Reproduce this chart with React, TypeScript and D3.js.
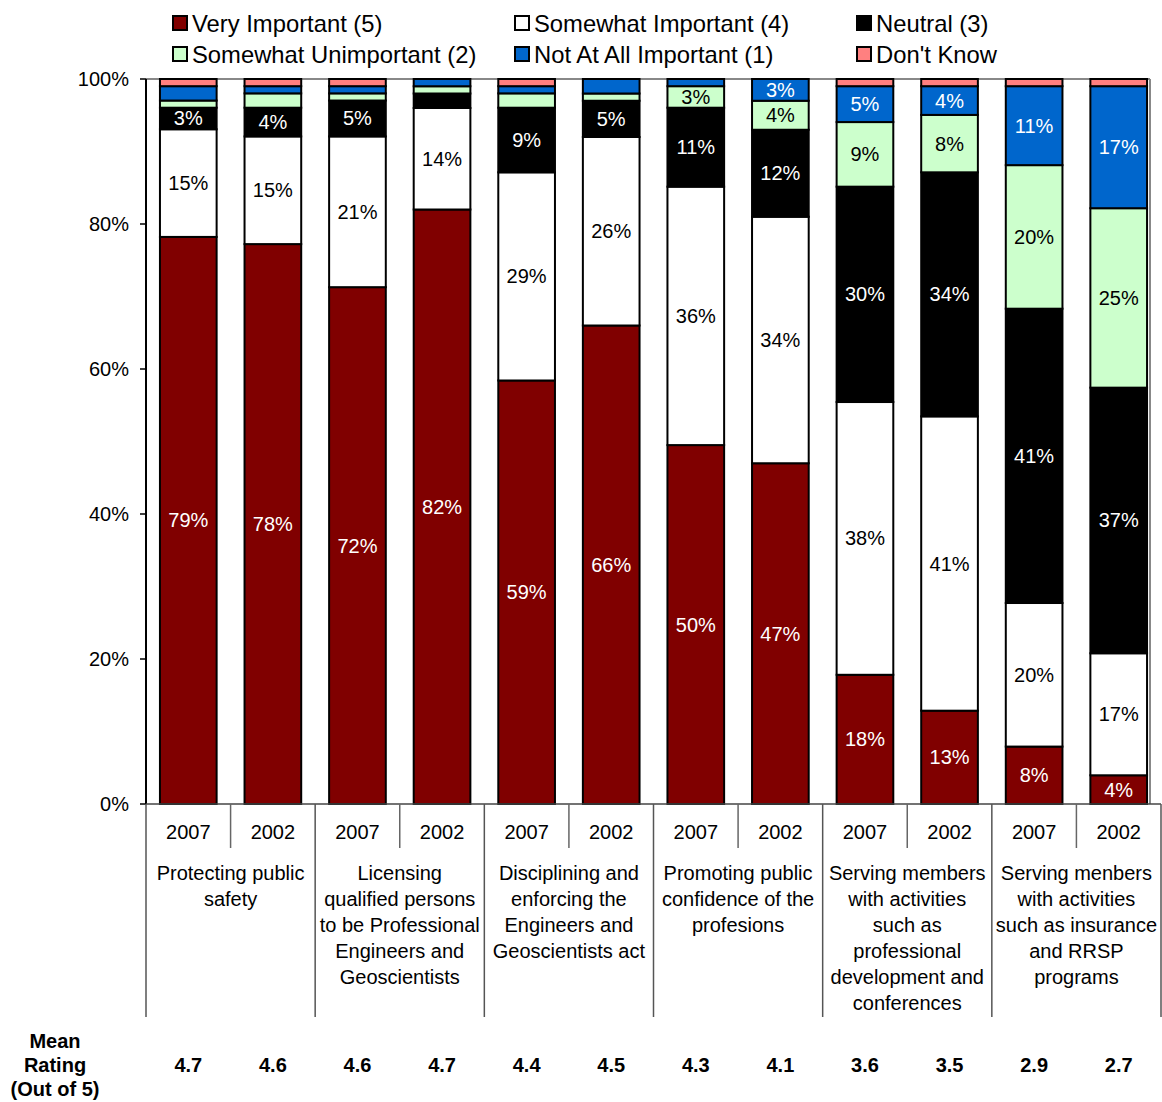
import React from "react";
import * as d3 from "d3";

const groups: string[][] = [
  ["Protecting public", "safety"],
  ["Licensing", "qualified persons", "to be Professional", "Engineers and", "Geoscientists"],
  ["Disciplining and", "enforcing the", "Engineers and", "Geoscientists act"],
  ["Promoting public", "confidence of the", "profesions"],
  ["Serving members", "with activities", "such as", "professional", "development and", "conferences"],
  ["Serving menbers", "with activities", "such as insurance", "and RRSP", "programs"],
];
const years = ["2007", "2002"];

const seriesNames = [
  "Very Important (5)",
  "Somewhat Important (4)",
  "Neutral (3)",
  "Somewhat Unimportant (2)",
  "Not At All Important (1)",
  "Don't Know",
];
const seriesColors = ["#800000", "#FFFFFF", "#000000", "#CCFFCC", "#0066CC", "#FF8080"];
const labelColors = ["#FFFFFF", "#000000", "#FFFFFF", "#000000", "#FFFFFF", "#000000"];

const veryImportant = [79, 78, 72, 82, 59, 66, 50, 47, 18, 13, 8, 4];
const somewhatImportant = [15, 15, 21, 14, 29, 26, 36, 34, 38, 41, 20, 17];
const neutral = [3, 4, 5, 2, 9, 5, 11, 12, 30, 34, 41, 37];
const somewhatUnimportant = [1, 2, 1, 1, 2, 1, 3, 4, 9, 8, 20, 25];
const notAtAllImportant = [2, 1, 1, 1, 1, 2, 1, 3, 5, 4, 11, 17];
const dontKnow = [1, 1, 1, 0, 1, 0, 0, 0, 1, 1, 1, 1];

const meanRatings = [4.7, 4.6, 4.6, 4.7, 4.4, 4.5, 4.3, 4.1, 3.6, 3.5, 2.9, 2.7];

const FONT = "'Liberation Sans', Arial, sans-serif";

export default function App() {
  const W = 1162;
  const H = 1102;
  const left = 146;
  const right = 1161;
  const top = 79;
  const bottom = 804;

  const seriesValues = [veryImportant, somewhatImportant, neutral, somewhatUnimportant, notAtAllImportant, dontKnow];
  const keys = seriesNames;
  const rows = veryImportant.map((_, i) => {
    const r: Record<string, number> = {};
    keys.forEach((k, s) => (r[k] = seriesValues[s][i]));
    return r;
  });
  const stacked = d3.stack<Record<string, number>>().keys(keys).offset(d3.stackOffsetExpand)(rows);

  const idx = d3.range(rows.length);
  const x = d3.scaleBand<number>().domain(idx).range([left, right]).paddingInner(0.33).paddingOuter(0.165);
  const y = d3.scaleLinear().domain([0, 1]).range([bottom, top]);
  const step = x.step();
  const bw = x.bandwidth();
  const yTicks = y.ticks(5);
  const fmt = d3.format(".0%");

  return (
    <svg width={W} height={H} style={{ position: "absolute", left: 0, top: 0, background: "#fff" }} fontFamily={FONT}>
      {/* plot border (gray) */}
      <line x1={left} x2={1150} y1={top} y2={top} stroke="#888" strokeWidth={2} />
      <line x1={1150} x2={1150} y1={top} y2={bottom} stroke="#888" strokeWidth={2} />

      {/* bars */}
      {stacked.map((layer, s) =>
        layer.map((d, i) => {
          const v = seriesValues[s][i];
          if (v <= 0) return null;
          const y0 = y(d[0]);
          const y1 = y(d[1]);
          return (
            <rect key={`${s}-${i}`} x={x(i)} y={y1} width={bw} height={y0 - y1} fill={seriesColors[s]} stroke="#000" strokeWidth={2} />
          );
        })
      )}
      {stacked.map((layer, s) =>
        layer.map((d, i) => {
          const v = seriesValues[s][i];
          if (v < 3 || s === 5) return null;
          return (
            <text
              key={`l-${s}-${i}`}
              x={(x(i) as number) + bw / 2}
              y={y((d[0] + d[1]) / 2)}
              textAnchor="middle"
              dominantBaseline="central"
              fontSize={20}
              fill={labelColors[s]}
            >
              {v + "%"}
            </text>
          );
        })
      )}

      {/* y axis */}
      <line x1={left} x2={left} y1={top} y2={bottom} stroke="#000" strokeWidth={2} />
      {yTicks.map((t) => (
        <g key={t}>
          <line x1={left - 6} x2={left} y1={y(t)} y2={y(t)} stroke="#000" strokeWidth={1.5} />
          <text x={129} y={y(t)} textAnchor="end" dominantBaseline="central" fontSize={20} fill="#000">
            {fmt(t)}
          </text>
        </g>
      ))}

      {/* x axis */}
      <line x1={left} x2={right} y1={bottom} y2={bottom} stroke="#444" strokeWidth={1.5} />
      {idx.map((i) => (
        <g key={`yr-${i}`}>
          <text x={(x(i) as number) + bw / 2} y={832} textAnchor="middle" dominantBaseline="central" fontSize={20} fill="#000">
            {years[i % 2]}
          </text>
          {i % 2 === 1 && (
            <line x1={left + step * i} x2={left + step * i} y1={bottom} y2={848} stroke="#666" strokeWidth={1.5} />
          )}
        </g>
      ))}
      {d3.range(groups.length + 1).map((g) => (
        <line key={`gs-${g}`} x1={left + step * 2 * g} x2={left + step * 2 * g} y1={bottom} y2={1017} stroke="#555" strokeWidth={1.5} />
      ))}
      {groups.map((lines, g) => {
        const cx = left + step * (2 * g + 1);
        return (
          <text key={`g-${g}`} x={cx} y={873} textAnchor="middle" dominantBaseline="central" fontSize={20} fill="#000">
            {lines.map((ln, j) => (
              <tspan key={j} x={cx} dy={j === 0 ? 0 : 26}>
                {ln}
              </tspan>
            ))}
          </text>
        );
      })}

      {/* mean ratings */}
      <text x={55} y={1041} textAnchor="middle" dominantBaseline="central" fontSize={20} fontWeight="bold" fill="#000">
        <tspan x={55} dy={0}>Mean</tspan>
        <tspan x={55} dy={24}>Rating</tspan>
        <tspan x={55} dy={24}>(Out of 5)</tspan>
      </text>
      {meanRatings.map((m, i) => (
        <text key={`m-${i}`} x={(x(i) as number) + bw / 2} y={1065} textAnchor="middle" dominantBaseline="central" fontSize={20} fontWeight="bold" fill="#000">
          {m.toFixed(1)}
        </text>
      ))}

      {/* legend */}
      {seriesNames.map((name, i) => {
        const col = i % 3;
        const row = Math.floor(i / 3);
        const lx = 173 + col * 342;
        const ly = 23 + row * 31;
        return (
          <g key={`lg-${i}`}>
            <rect x={lx} y={ly - 7} width={14} height={14} fill={seriesColors[i]} stroke="#000" strokeWidth={2} />
            <text x={lx + 19} y={ly} dominantBaseline="central" fontSize={23.8} fill="#000">
              {name}
            </text>
          </g>
        );
      })}
    </svg>
  );
}
